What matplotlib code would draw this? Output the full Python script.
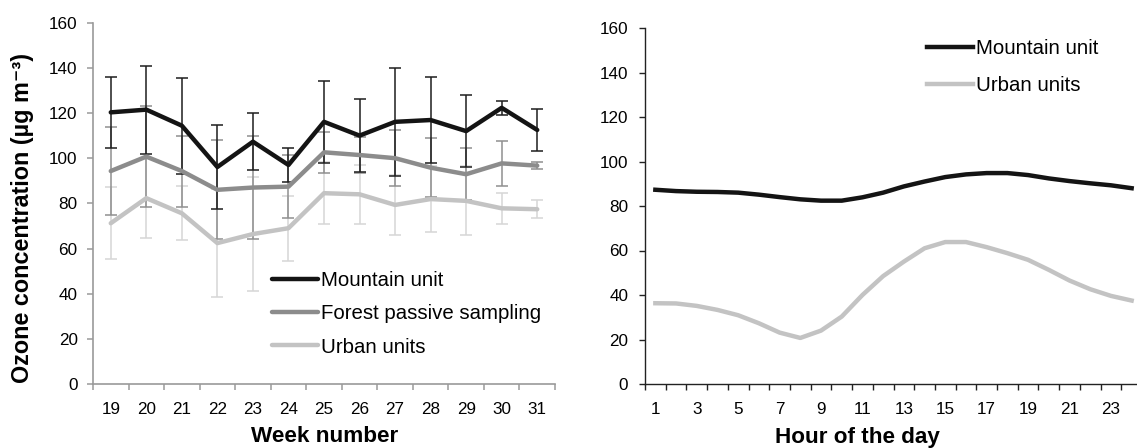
import numpy as np
import matplotlib
matplotlib.use("Agg")
import matplotlib.pyplot as plt
from matplotlib.ticker import FixedLocator

plt.rcParams['font.family'] = ['Liberation Sans', 'DejaVu Sans']

# ---- Data: left panel (weekly means with SD) ----
weeks = [19, 20, 21, 22, 23, 24, 25, 26, 27, 28, 29, 30, 31]
mountain_week = [120.3, 121.5, 114.4, 96.1, 107.3, 97.0, 116.1, 110.0, 116.1, 116.9, 112.0, 122.3, 112.5]
mountain_err = [15.8, 19.5, 21.3, 18.6, 12.5, 7.4, 18.2, 16.2, 23.9, 19.1, 15.9, 3.2, 9.1]
forest_week = [94.3, 100.7, 94.3, 86.0, 87.0, 87.4, 102.6, 101.4, 100.0, 95.8, 92.9, 97.7, 96.7]
forest_err = [19.3, 22.4, 15.7, 22.0, 22.7, 14.0, 9.1, 7.8, 12.5, 13.0, 11.5, 9.8, 1.7]
urban_week = [71.2, 82.3, 75.6, 62.4, 66.4, 69.0, 84.5, 84.0, 79.3, 81.9, 81.1, 77.8, 77.4]
urban_err = [15.9, 17.7, 12.0, 24.0, 25.1, 14.4, 13.7, 13.2, 13.2, 14.7, 15.3, 7.0, 4.0]

# ---- Data: right panel (hourly means) ----
hours = list(range(1, 25))
mountain_hour = [87.3, 86.7, 86.4, 86.3, 86.0, 85.1, 84.0, 83.0, 82.4, 82.4, 83.9, 86.0,
                 88.8, 91.0, 93.0, 94.2, 94.8, 94.8, 93.9, 92.4, 91.2, 90.2, 89.3, 88.0]
urban_hour = [36.3, 36.2, 35.1, 33.3, 30.9, 27.3, 23.1, 20.7, 24.0, 30.3, 40.0, 48.5,
              55.0, 61.0, 63.8, 63.8, 61.5, 58.8, 55.8, 51.3, 46.5, 42.6, 39.6, 37.5]

labels = ['Mountain unit', 'Forest passive sampling', 'Urban units']
c_mount, c_forest, c_urban = '#141414', '#8c8c8c', '#c3c3c3'
e_mount, e_forest, e_urban = '#1e1e1e', '#8f8f8f', '#d6d6d6'

W, H = 1137, 448
fig = plt.figure(figsize=(W / 100, H / 100), dpi=100)

def fr(x0, y0, x1, y1):
    return [x0 / W, 1 - y1 / H, (x1 - x0) / W, (y1 - y0) / H]

TICK_FS = 12.3
LEG_FS = 14.7
LAB_FS = 16.2

# ---------------- Left panel ----------------
ax1 = fig.add_axes(fr(93, 22.7, 555, 384))
xw = np.arange(len(weeks))
for vals, errs, col, ecol, lab, z in [
        (urban_week, urban_err, c_urban, e_urban, labels[2], 3),
        (forest_week, forest_err, c_forest, e_forest, labels[1], 4),
        (mountain_week, mountain_err, c_mount, e_mount, labels[0], 5)]:
    ax1.errorbar(xw, vals, yerr=errs, fmt='none', ecolor=ecol, elinewidth=1.1,
                 capsize=4, capthick=1.1, zorder=z - 2)
for vals, col, lab, z in [(mountain_week, c_mount, labels[0], 7),
                          (forest_week, c_forest, labels[1], 6),
                          (urban_week, c_urban, labels[2], 5)]:
    ax1.plot(xw, vals, color=col, lw=3.2, label=lab, zorder=z, solid_capstyle='round')

ax1.set_xlim(-0.5, len(weeks) - 0.5)
ax1.set_ylim(0, 160)
ax1.set_yticks(np.arange(0, 161, 20))
ax1.set_xticks(xw)
ax1.set_xticklabels([str(w) for w in weeks])
ax1.xaxis.set_minor_locator(FixedLocator(np.arange(-0.5, len(weeks), 1.0)))
for s in ['top', 'right']:
    ax1.spines[s].set_visible(False)
for s in ['left', 'bottom']:
    ax1.spines[s].set_color('#9a9a9a')
    ax1.spines[s].set_linewidth(1.2)
ax1.tick_params(axis='x', which='major', length=0, pad=13, labelsize=TICK_FS)
ax1.tick_params(axis='x', which='minor', length=4, color='#9a9a9a', width=1.1, direction='out')
ax1.tick_params(axis='y', length=4, color='#9a9a9a', width=1.1, pad=7, labelsize=TICK_FS)
ax1.set_xlabel('Week number', fontsize=LAB_FS, fontweight='bold', va='center')
ax1.xaxis.set_label_coords(0.501, -0.146)
ax1.set_ylabel('Ozone concentration (µg m⁻³)', fontsize=LAB_FS + 0.6,
               fontweight='bold', va='center')
ax1.yaxis.set_label_coords(-0.1526, 0.459)
leg1 = ax1.legend(loc='upper left', bbox_to_anchor=(272 / W, 1 - 271 / H),
                  bbox_transform=fig.transFigure, frameon=False, fontsize=LEG_FS,
                  handlelength=2.25, handletextpad=0.15, labelspacing=0.7,
                  borderpad=0, borderaxespad=0)

# ---------------- Right panel ----------------
ax2 = fig.add_axes(fr(645, 28, 1142, 384))
xh = np.arange(len(hours))
ax2.plot(xh, mountain_hour, color=c_mount, lw=3.2, label='Mountain unit', zorder=5)
ax2.plot(xh, urban_hour, color=c_urban, lw=3.2, label='Urban units', zorder=4)
ax2.set_xlim(-0.5, len(hours) - 0.5)
ax2.set_ylim(0, 160)
ax2.set_yticks(np.arange(0, 161, 20))
ax2.set_xticks(xh[::2])
ax2.set_xticklabels([str(h) for h in hours[::2]])
ax2.xaxis.set_minor_locator(FixedLocator(np.arange(-0.5, len(hours), 1.0)))
for s in ['top', 'right']:
    ax2.spines[s].set_visible(False)
for s in ['left', 'bottom']:
    ax2.spines[s].set_color('#222222')
    ax2.spines[s].set_linewidth(1.0)
ax2.tick_params(axis='x', which='major', length=0, pad=13, labelsize=TICK_FS)
ax2.tick_params(axis='x', which='minor', length=4, color='#222222', width=1.0, direction='out')
ax2.tick_params(axis='y', length=4, color='#222222', width=1.0, pad=8, labelsize=TICK_FS)
ax2.set_xlabel('Hour of the day', fontsize=LAB_FS, fontweight='bold', va='center')
ax2.xaxis.set_label_coords(0.428, -0.15)
leg2 = ax2.legend(loc='upper left', bbox_to_anchor=(927 / W, 1 - 39 / H),
                  bbox_transform=fig.transFigure, frameon=False, fontsize=LEG_FS,
                  handlelength=2.25, handletextpad=0.15, labelspacing=0.9,
                  borderpad=0, borderaxespad=0)

fig.savefig('out.png', dpi=100)
